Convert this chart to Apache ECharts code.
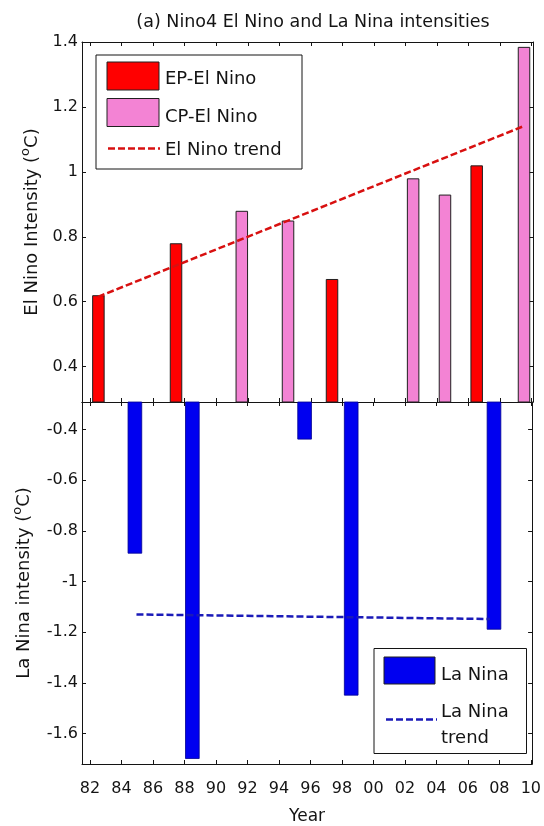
<!DOCTYPE html>
<html><head><meta charset="utf-8">
<script src="https://cdn.jsdelivr.net/npm/echarts@6/dist/echarts.min.js"></script>
<style>html,body{margin:0;padding:0;background:#fff}#c{width:544px;height:826px}</style>
</head><body><div id="c"></div>
<script>
// ---- data ----
const epYears = [1982.53, 1987.45, 1997.34, 2006.51];
const epValues = [0.62, 0.78, 0.67, 1.02];
const cpYears = [1991.62, 1994.55, 2002.48, 2004.50, 2009.51];
const cpValues = [0.88, 0.85, 0.98, 0.93, 1.385];
const elTrendYears = [1982.50, 2009.45];
const elTrendValues = [0.615, 1.14];
const laYears = [1984.85, 1988.50, 1995.63, 1998.59, 2007.66];
const laValues = [-0.89, -1.70, -0.44, -1.45, -1.19];
const laTrendYears = [1984.95, 2007.40];
const laTrendValues = [-1.13, -1.148];
const yearTickValues = [1982,1984,1986,1988,1990,1992,1994,1996,1998,2000,2002,2004,2006,2008,2010];
const yearTickLabels = ['82','84','86','88','90','92','94','96','98','00','02','04','06','08','10'];
const elTickValues = [0.4,0.6,0.8,1,1.2,1.4];
const elTickLabels = ['0.4','0.6','0.8','1','1.2','1.4'];
const laTickValues = [-1.6,-1.4,-1.2,-1,-0.8,-0.6,-0.4];
const laTickLabels = ['-1.6','-1.4','-1.2','-1','-0.8','-0.6','-0.4'];
const titleText = '(a) Nino4 El Nino and La Nina intensities';

// ---- helpers ----
const FONT = 'DejaVu Sans';
const INK = '#141414';
function lookup(vals, labs){
  return function(v){
    for (let i=0;i<vals.length;i++){ if (Math.abs(vals[i]-v) < 1e-6) return labs[i]; }
    return '';
  };
}
const X_MIN = 1981.49, X_MAX = 2010.08;
const tickIn = {show:true, inside:true, length:4, lineStyle:{color:INK, width:1}};
const line = {show:true, onZero:false, lineStyle:{color:INK, width:1}};
function xAx(grid, pos, labels, extra){
  return Object.assign({
    type:'value', gridIndex:grid, position:pos, min:X_MIN, max:X_MAX, splitNumber:14,
    axisLine:line, axisTick:tickIn, splitLine:{show:false},
    axisLabel: labels ? {show:true, formatter:lookup(yearTickValues, yearTickLabels), fontFamily:FONT, fontSize:16, color:INK, margin:17, showMinLabel:true, showMaxLabel:true} : {show:false}
  }, extra||{});
}
function yAx(grid, pos, min, max, split, vals, labs, extra){
  return Object.assign({
    type:'value', gridIndex:grid, position:pos, min:min, max:max, splitNumber:split,
    axisLine:line, axisTick:tickIn, splitLine:{show:false},
    axisLabel: vals ? {show:true, formatter:lookup(vals, labs), fontFamily:FONT, fontSize:16, color:INK, margin:4} : {show:false}
  }, extra||{});
}
const supRich = {sup:{fontSize:13, fontFamily:FONT, color:INK, verticalAlign:'top', padding:[0,0,14,0]}};

const chart = echarts.init(document.getElementById('c'), null, {renderer:'canvas'});
chart.setOption({
  animation:false,
  backgroundColor:'#ffffff',
  title:{text:titleText, left:308, top:8, textAlign:'center',
    textStyle:{fontFamily:FONT, fontSize:17.5, fontWeight:'normal', color:INK}},
  grid:[
    {left:82, right:11, top:42, height:360, containLabel:false},
    {left:82, right:11, top:402, bottom:62, containLabel:false}
  ],
  xAxis:[
    xAx(0,'bottom',false),
    xAx(0,'top',false),
    xAx(1,'bottom',true,{name:'Year', nameLocation:'middle', nameGap:44,
      nameTextStyle:{fontFamily:FONT, fontSize:17, color:INK}}),
    xAx(1,'top',false)
  ],
  yAxis:[
    yAx(0,'left',0.291,1.4,5,elTickValues,elTickLabels,{name:'El Nino Intensity ({sup|o}C)', nameLocation:'middle', nameGap:34,
      nameTextStyle:{fontFamily:FONT, fontSize:18, color:INK, rich:supRich}}),
    yAx(0,'right',0.291,1.4,5,null,null),
    yAx(1,'left',-1.72,-0.292,7,laTickValues,laTickLabels,{name:'La Nina intensity ({sup|o}C)', nameLocation:'middle', nameGap:44,
      nameTextStyle:{fontFamily:FONT, fontSize:18, color:INK, rich:supRich}}),
    yAx(1,'right',-1.72,-0.292,7,null,null)
  ],
  series:[
    {type:'bar', name:'EP-El Nino', xAxisIndex:0, yAxisIndex:0, barWidth:12.5, barGap:'-100%', clip:true,
      itemStyle:{color:'#ff0000', borderColor:'#202020', borderWidth:1},
      data: epYears.map((y,i)=>[y, epValues[i]])},
    {type:'bar', name:'CP-El Nino', xAxisIndex:0, yAxisIndex:0, barWidth:12.5, barGap:'-100%', clip:true,
      itemStyle:{color:'#f383d4', borderColor:'#202020', borderWidth:1},
      data: cpYears.map((y,i)=>[y, cpValues[i]])},
    {type:'line', name:'El Nino trend', xAxisIndex:0, yAxisIndex:0, symbol:'none', z:5,
      lineStyle:{color:'#d81010', width:2.5, type:[7,3]},
      data: elTrendYears.map((y,i)=>[y, elTrendValues[i]])},
    {type:'bar', name:'La Nina', xAxisIndex:2, yAxisIndex:2, barWidth:14.5, clip:true,
      itemStyle:{color:'#0000f0', borderColor:'#000090', borderWidth:0.8},
      data: laYears.map((y,i)=>[y, laValues[i]])},
    {type:'line', name:'La Nina trend', xAxisIndex:2, yAxisIndex:2, symbol:'none', z:5,
      lineStyle:{color:'#1a1ab8', width:2.5, type:[7,3]},
      data: laTrendYears.map((y,i)=>[y, laTrendValues[i]])}
  ],
  graphic:[
    // top legend
    {type:'rect', z:100, shape:{x:96, y:55, width:206, height:114}, style:{fill:'#fff', stroke:INK, lineWidth:1}},
    {type:'rect', z:101, shape:{x:107, y:62, width:52, height:28}, style:{fill:'#ff0000', stroke:'#202020', lineWidth:1}},
    {type:'rect', z:101, shape:{x:107, y:98.5, width:52, height:28}, style:{fill:'#f383d4', stroke:'#202020', lineWidth:1}},
    {type:'line', z:101, shape:{x1:108, y1:148.5, x2:160, y2:148.5}, style:{stroke:'#d81010', lineWidth:2.5, lineDash:[7,3]}},
    {type:'text', z:101, x:165, y:79, style:{text:'EP-El Nino', font:'18px "DejaVu Sans"', fill:INK, textVerticalAlign:'middle'}},
    {type:'text', z:101, x:165, y:117, style:{text:'CP-El Nino', font:'18px "DejaVu Sans"', fill:INK, textVerticalAlign:'middle'}},
    {type:'text', z:101, x:165, y:150, style:{text:'El Nino trend', font:'18px "DejaVu Sans"', fill:INK, textVerticalAlign:'middle'}},
    // bottom legend
    {type:'rect', z:100, shape:{x:374, y:648.5, width:152.5, height:105}, style:{fill:'#fff', stroke:INK, lineWidth:1}},
    {type:'rect', z:101, shape:{x:384, y:657, width:51, height:27}, style:{fill:'#0000f0', stroke:'#202020', lineWidth:1}},
    {type:'line', z:101, shape:{x1:386, y1:719.5, x2:437, y2:719.5}, style:{stroke:'#1a1ab8', lineWidth:2.5, lineDash:[7,3]}},
    {type:'text', z:101, x:441, y:675, style:{text:'La Nina', font:'18px "DejaVu Sans"', fill:INK, textVerticalAlign:'middle'}},
    {type:'text', z:101, x:441, y:712, style:{text:'La Nina', font:'18px "DejaVu Sans"', fill:INK, textVerticalAlign:'middle'}},
    {type:'text', z:101, x:441, y:738, style:{text:'trend', font:'18px "DejaVu Sans"', fill:INK, textVerticalAlign:'middle'}}
  ]
});
</script>
</body></html>
